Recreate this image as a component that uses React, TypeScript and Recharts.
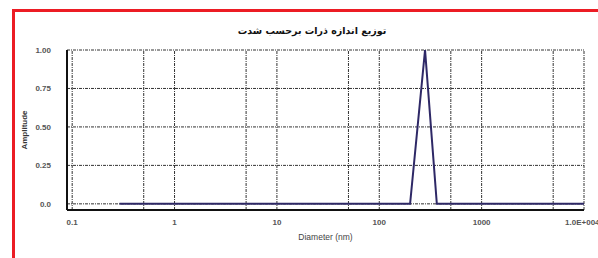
import React from 'react';
import { LineChart, Line, XAxis, YAxis, CartesianGrid, Label, ReferenceLine } from 'recharts';

const diameters = [0.29, 200, 280, 365, 10000];
const amplitudes = [0, 0, 1, 0, 0];
const xTicks = [0.1, 1, 10, 100, 1000, 10000];
const xGrid = [0.1, 0.5, 1, 5, 10, 50, 100, 500, 1000, 5000, 10000];
const yTicks = [0, 0.25, 0.5, 0.75, 1];
const title = 'توزیع اندازه ذرات برحسب شدت';

const data = diameters.map((d, i) => ({ d, amp: amplitudes[i] }));

const fmtX = (v: number) => (v >= 10000 ? '1.0E+004' : String(v));
const fmtY = (v: number) => (v === 0 ? '0.0' : v.toFixed(2));

const tickStyle = { fontSize: 8, fill: '#555', fontFamily: 'Liberation Sans, Arial', fontWeight: 'bold' as const };

const App = () => {
    return (
        <div style={{ position: 'absolute', left: 0, top: 0, width: 598, height: 258, background: '#fff', overflow: 'hidden' }}>
            <div style={{ position: 'absolute', left: 12, top: 9, width: 700, height: 400, borderLeft: '3px solid #ec1c24', borderTop: '3px solid #ec1c24' }} />
            <div style={{ position: 'absolute', left: 0, width: 624, top: 25, textAlign: 'center', fontFamily: 'DejaVu Sans', fontWeight: 'bold', fontSize: 9.5, color: '#111', direction: 'rtl' }}>
                {title}
            </div>
            <div style={{ position: 'absolute', left: 0, top: 0 }}>
                <LineChart width={598} height={258} data={data} margin={{ top: 50, right: 14, left: 0, bottom: 0 }}>
                    <CartesianGrid stroke="#333" strokeDasharray="3 1 1 1" vertical={false} />
                    {xGrid.map((v) => (
                        <ReferenceLine key={v} x={v} stroke="#333" strokeDasharray="3 1 1 1" />
                    ))}
                    <XAxis
                        dataKey="d"
                        type="number"
                        scale="log"
                        domain={[0.089, 10000]}
                        ticks={xTicks}
                        tickFormatter={fmtX}
                        allowDataOverflow
                        tickLine={false}
                        axisLine={{ stroke: '#111', strokeWidth: 2 }}
                        tick={tickStyle}
                        tickMargin={3}
                        height={48}
                    >
                        <Label value="Diameter (nm)" position="insideTop" offset={24} style={{ fontSize: 8.5, fill: '#444', fontFamily: 'Liberation Sans, Arial' }} />
                    </XAxis>
                    <YAxis
                        type="number"
                        domain={[-0.04, 1]}
                        ticks={yTicks}
                        tickFormatter={fmtY}
                        allowDataOverflow
                        tickLine={false}
                        axisLine={{ stroke: '#111', strokeWidth: 2 }}
                        tick={tickStyle}
                        tickMargin={10}
                        width={67}
                    >
                        <Label value="Amplitude" angle={-90} position="insideLeft" offset={24} style={{ fontSize: 8, fill: '#333', fontFamily: 'Liberation Sans, Arial', fontWeight: 'bold', textAnchor: 'middle' }} />
                    </YAxis>
                    <Line type="linear" dataKey="amp" stroke="#2e2866" strokeWidth={2} dot={false} isAnimationActive={false} />
                </LineChart>
            </div>
        </div>
    );
};

export default App;
